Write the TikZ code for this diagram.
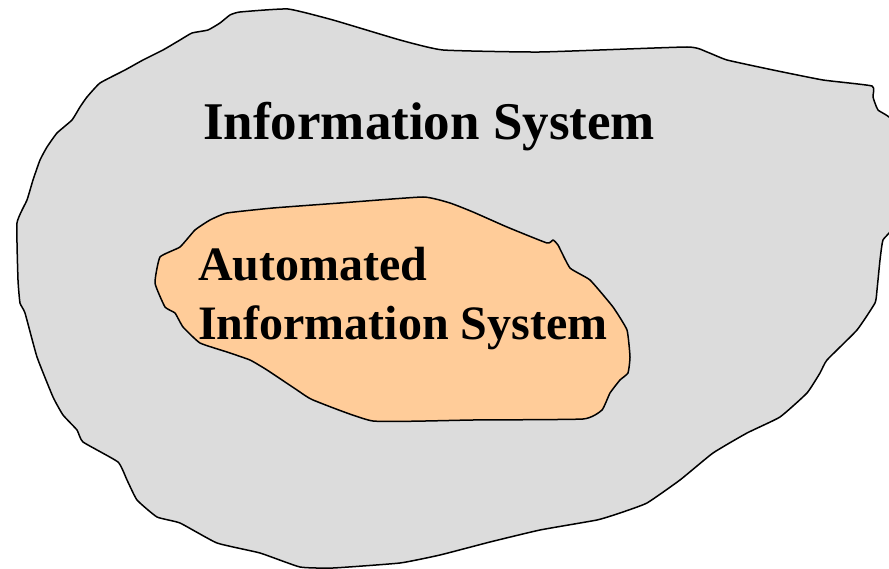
\documentclass[tikz,border=0pt]{standalone}
\usepackage{fontspec}
\setmainfont{Liberation Serif}
\definecolor{outerfill}{HTML}{DCDCDC}
\definecolor{innerfill}{HTML}{FFCC99}
\tikzset{
  blob/.style={draw=black, line width=1.5pt, line join=round},
  title/.style={font=\bfseries\fontsize{53}{58}\selectfont, inner sep=0pt, anchor=base west},
  subtitle/.style={font=\bfseries\fontsize{48}{58}\selectfont, inner sep=0pt, anchor=base west}
}
\begin{document}
\begin{tikzpicture}[x=1pt,y=-1pt]
\useasboundingbox (0,0) rectangle (889,569);
\clip (0,0) rectangle (889,569);
% outer blob
\draw[blob, fill=outerfill] plot[smooth cycle, tension=0.25] coordinates {
 (288,9) (333,20) (400,40) (443,50) (540,52) (687,47) (707,52) (727,60)
 (773,70) (823,80) (872,86) (873,97) (878,110) (895,125) (895,222)
 (883,240) (880,260) (877,290) (875,303) (857,330) (827,360) (820,373)
 (807,393) (780,417) (747,433) (713,453) (680,480) (647,503) (620,513)
 (597,520) (540,530) (490,542) (440,555) (400,563) (333,568) (300,567)
 (260,553) (217,543) (180,523) (157,517) (137,500) (127,480) (118,462)
 (83,442) (77,430) (63,415) (53,397) (37,357) (25,313) (20,303) (18,280)
 (17,223) (27,200) (33,180) (40,160) (47,147) (57,133) (72,120) (80,107)
 (87,97) (100,83) (125,70) (143,60) (163,50) (180,40) (192,33) (208,30)
 (220,23) (230,15) (240,12)};
% inner blob
\draw[blob, fill=innerfill] plot[smooth cycle, tension=0.25] coordinates {
 (160,257) (180,247) (195,230) (210,220) (227,213) (273,208) (340,203)
 (423,197) (450,203) (473,212) (507,227) (547,243) (553,240) (558,245)
 (570,268) (590,280) (613,307) (627,330) (630,357) (628,373) (620,380)
 (610,393) (602,410) (583,419) (473,420) (373,421) (313,400) (297,390)
 (267,370) (250,360) (227,352) (200,343) (183,327) (175,313) (165,307)
 (155,283)};
\node[title] (outer) at (203,140) {Information System};
\node[subtitle] (inner1) at (198,281) {Automated};
\node[subtitle] (inner2) at (198,339) {Information System};
\end{tikzpicture}
\end{document}
